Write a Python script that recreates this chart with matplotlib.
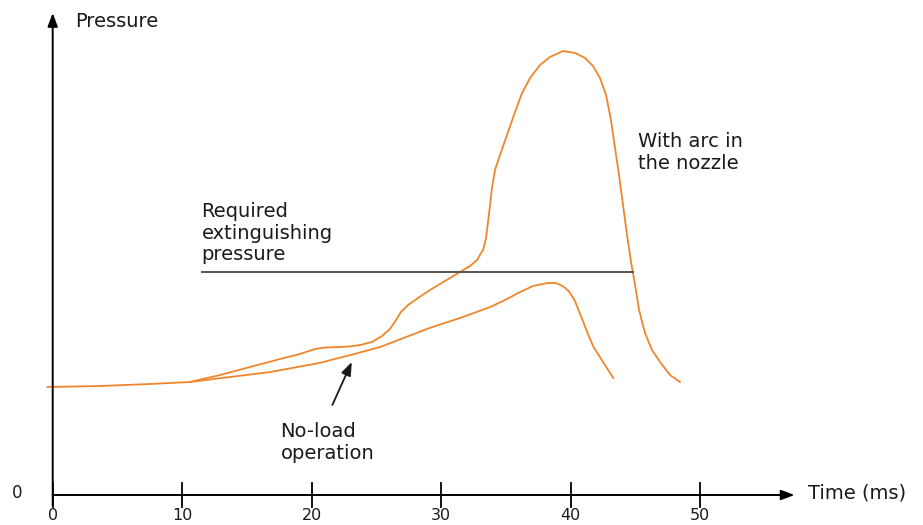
import numpy as np
import matplotlib.pyplot as plt

plt.rcParams['font.family'] = ['DejaVu Sans']

# pressure with arc in the nozzle (time in ms, pressure in arbitrary units)
t_arc = [-0.4, 3.7, 7.5, 10.6, 12.94, 15.24, 17.56, 19.1, 20.26, 21.03, 22.19,
         22.96, 23.74, 24.66, 25.44, 26.05, 26.52, 26.9, 27.45, 28.22, 29.14,
         30.3, 31.46, 32.23, 32.78, 33.08, 33.24, 33.47, 33.62, 33.78, 33.93,
         34.16, 34.55, 35.09, 35.71, 36.25, 36.87, 37.64, 38.41, 39.42, 40.35,
         41.12, 41.73, 42.27, 42.74, 43.12, 43.43, 43.74, 44.05, 44.36, 44.67,
         44.98, 45.29, 45.75, 46.29, 46.91, 47.68, 48.45]
p_arc = [10.8, 10.9, 11.1, 11.3, 12.0, 12.8, 13.6, 14.1, 14.6, 14.75, 14.8,
         14.85, 15.0, 15.3, 15.9, 16.6, 17.5, 18.3, 19.0, 19.7, 20.5,
         21.4, 22.3, 22.9, 23.5, 24.2, 24.5, 25.7, 27.3, 29.0, 30.7,
         32.5, 34.0, 36.0, 38.3, 40.2, 41.7, 43.0, 43.8, 44.4, 44.2,
         43.7, 42.9, 41.7, 40.0, 37.5, 34.7, 32.0, 29.0, 26.0, 23.3,
         21.0, 18.5, 16.2, 14.5, 13.3, 12.0, 11.3]

# pressure for no-load operation
t_noload = [10.6, 13.7, 16.8, 20.6, 23.0, 25.3, 29.1, 31.46, 33.8, 34.94, 36.1,
            37.1, 38.2, 38.85, 39.39, 39.85, 40.3, 40.77, 41.31, 41.77, 42.31,
            42.85, 43.3]
p_noload = [11.3, 11.8, 12.3, 13.2, 14.0, 14.8, 16.7, 17.7, 18.8, 19.5, 20.3,
            20.9, 21.2, 21.2, 20.9, 20.4, 19.5, 18.0, 16.2, 14.8, 13.7,
            12.6, 11.7]

# required extinguishing pressure level
t_req = [11.5, 44.8]
p_req = 22.3

ticks = [0, 10, 20, 30, 40, 50]

orange = '#f0862c'
ink = '#1a1a1a'

fig = plt.figure(figsize=(9.23, 5.25), dpi=100)
ax = fig.add_axes([0, 0, 1, 1])
ax.set_xlim(-4.07, 67.22)
ax.set_ylim(-3.0, 49.5)
ax.axis('off')

ax.plot(t_arc, p_arc, color=orange, lw=1.3)
ax.plot(t_noload, p_noload, color=orange, lw=1.3)
ax.plot(t_req, [p_req, p_req], color='#555555', lw=1.4)

# axes with arrow heads
arrow = dict(arrowstyle='-|>,head_length=0.8,head_width=0.3', color='black',
             lw=1.4, shrinkA=0, shrinkB=0)
ax.annotate('', xy=(0, 48.2), xytext=(0, -1.1), arrowprops=arrow)
ax.annotate('', xy=(57.3, 0), xytext=(0, 0), arrowprops=arrow)
for t in ticks:
    ax.plot([t, t], [-1.15, 1.2], color='black', lw=1.3)
    ax.text(t, -2.05, str(t), ha='center', va='center', fontsize=11.5, color=ink)

ax.text(1.7, 47.3, 'Pressure', ha='left', va='center', fontsize=14, color=ink)
ax.text(-2.76, 0.2, '0', ha='center', va='center', fontsize=12, color=ink)
ax.text(58.3, 0.2, 'Time (ms)', ha='left', va='center', fontsize=14, color=ink)

ax.text(11.5, 29.3, 'Required\nextinguishing\npressure', ha='left', va='top',
        fontsize=14, color=ink, linespacing=1.17)
ax.text(45.2, 36.3, 'With arc in\nthe nozzle', ha='left', va='top',
        fontsize=14, color=ink, linespacing=1.17)
ax.text(17.6, 7.3, 'No-load\noperation', ha='left', va='top',
        fontsize=14, color=ink, linespacing=1.17)

ax.annotate('', xy=(23.1, 13.3), xytext=(21.6, 9.0),
            arrowprops=dict(arrowstyle='-|>,head_length=0.8,head_width=0.3',
                            color=ink, lw=1.3, shrinkA=0, shrinkB=0))

fig.savefig('out.png', dpi=100)
